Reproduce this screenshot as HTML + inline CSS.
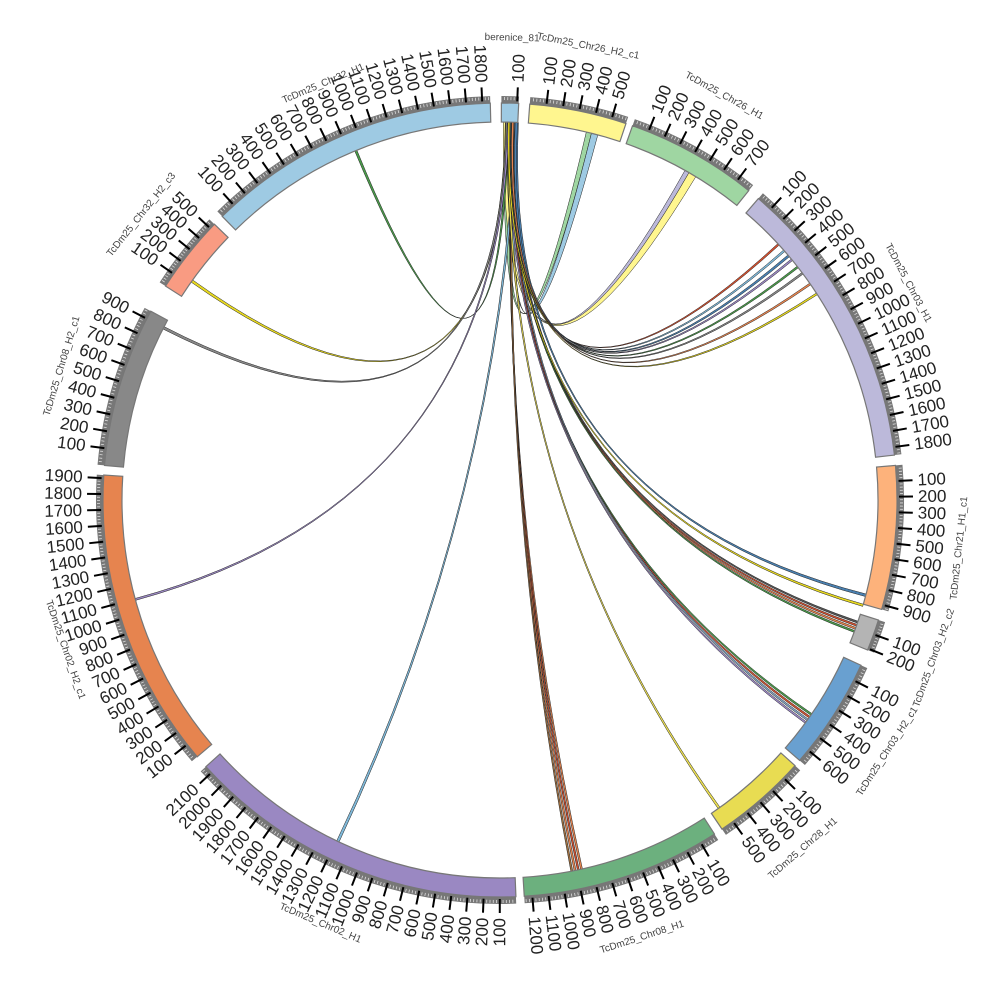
<!DOCTYPE html>
<html><head><meta charset="utf-8">
<style>
html,body{margin:0;padding:0;background:#fff;width:1000px;height:1000px;overflow:hidden}
svg{display:block}
text{font-family:"Liberation Sans","DejaVu Sans",sans-serif}
</style></head>
<body>
<svg id="s" width="1000" height="1000" viewBox="0 0 1000 1000" xmlns="http://www.w3.org/2000/svg">
<g id="links"></g>
<g id="segs"></g>
<g id="names" font-size="10" fill="#444">
<text data-a="1.5" data-r="462">berenice_81</text>
<text data-a="11" data-r="462">TcDm25_Chr26_H2_c1</text>
<text data-a="29" data-r="462">TcDm25_Chr26_H1</text>
<text data-a="62" data-r="462">TcDm25_Chr03_H1</text>
<text data-a="96" data-r="462">TcDm25_Chr21_H1_c1</text>
<text data-a="110" data-r="462">TcDm25_Chr03_H2_c2</text>
<text data-a="123" data-r="462">TcDm25_Chr03_H2_c1</text>
<text data-a="139" data-r="462">TcDm25_Chr28_H1</text>
<text data-a="162" data-r="460">TcDm25_Chr08_H1</text>
<text data-a="203" data-r="460">TcDm25_Chr02_H1</text>
<text data-a="251" data-r="460">TcDm25_Chr02_H2_c1</text>
<text data-a="287" data-r="458">TcDm25_Chr08_H2_c1</text>
<text data-a="308.5" data-r="458">TcDm25_Chr32_H2_c3</text>
<text data-a="337" data-r="452">TcDm25_Chr32_H1</text>
</g>
</svg>
<script>
const C=500,R0=378,R1=397,NS="http://www.w3.org/2000/svg";
function P(r,a){const t=a*Math.PI/180;return [C+r*Math.sin(t),C-r*Math.cos(t)];}
function el(tag,attrs,parent){const e=document.createElementNS(NS,tag);for(const k in attrs)e.setAttribute(k,attrs[k]);parent.appendChild(e);return e;}
function arcPath(r0,r1,s,e){const a=P(r1,s),b=P(r1,e),c=P(r0,e),d=P(r0,s);const l=(e-s)>180?1:0;
return `M${a[0]},${a[1]} A${r1},${r1} 0 ${l} 1 ${b[0]},${b[1]} L${c[0]},${c[1]} A${r0},${r0} 0 ${l} 0 ${d[0]},${d[1]} Z`;}
const segs=[
[0.2,2.7,110,"#9ecae3"],
[4.3,18.5,590,"#fff68f"],
[19.5,38.8,790,"#9fd6a2"],
[40.6,83.5,1850,"#bcb9da"],
[85,106,930,"#fdb27b"],
[107.6,112.2,210,"#b4b4b4"],
[114.6,131,680,"#69a0d0"],
[132,146,580,"#e8dc52"],
[147.3,176.5,1250,"#6cb07e"],
[177.7,227.8,2150,"#9a88c2"],
[229.7,273.6,1920,"#e6844f"],
[275,298.4,950,"#888888"],
[302.6,314,540,"#f99b82"],
[315.6,358.6,1850,"#9ecae3"]];
const sg=document.getElementById("segs");
segs.forEach(([s,e,len,col])=>{
 el("path",{d:arcPath(R0,R1,s,e),fill:col,stroke:"#777","stroke-width":1.2},sg);
 el("path",{d:arcPath(R1,404,s,e),fill:"#777",stroke:"none"},sg);
 const sc=(e-s)/len;
 for(let u=20;u<len;u+=20){if(u%100==0)continue;const a=s+u*sc;const p=P(400,a),q=P(403,a);
  el("line",{x1:p[0],y1:p[1],x2:q[0],y2:q[1],stroke:"#ddd","stroke-width":0.8},sg);}
 for(let u=100;u<len;u+=100){const a=s+u*sc;const p=P(399,a),q=P(413,a);
  el("line",{x1:p[0],y1:p[1],x2:q[0],y2:q[1],stroke:"#000","stroke-width":2},sg);
  const t=P(418,a);const right=a<180;
  const tx=el("text",{x:t[0],y:t[1],"font-size":17,fill:"#222","text-anchor":right?"start":"end","dominant-baseline":"central",
   transform:`rotate(${right?a-90:a+90} ${t[0]} ${t[1]})`},sg);tx.textContent=u;}
});
document.querySelectorAll("#names text").forEach(t=>{
 const a=+t.dataset.a,r=+t.dataset.r;const p=P(r,a);const rot=(a>90&&a<270)?a-180:a;
 t.setAttribute("x",p[0]);t.setAttribute("y",p[1]);t.setAttribute("text-anchor","middle");
 t.setAttribute("dominant-baseline","central");t.setAttribute("transform",`rotate(${rot} ${p[0]} ${p[1]})`);
});
const lg=document.getElementById("links");
function ribbon(a1,a2,b1,b2,col){
 const p1=P(R0,a1),p2=P(R0,a2),q1=P(R0,b1),q2=P(R0,b2);
 const d=`M${p1[0]},${p1[1]} Q500,500 ${q2[0]},${q2[1]} A${R0},${R0} 0 0 0 ${q1[0]},${q1[1]} Q500,500 ${p2[0]},${p2[1]} A${R0},${R0} 0 0 0 ${p1[0]},${p1[1]}Z`;
 el("path",{d:d,fill:col,stroke:"#222","stroke-width":0.5},lg);}
const L=[
[1.0,337.4,"#4a9a4a",0.35],
[0.8,305.2,"#e6d820",0.4],
[0.9,296.9,"#888",0.4],
[1.1,254.6,"#9a88c2",0.3],
[2.3,205.2,"#7fb8d8",0.4],
[1.6,167.4,"#e6844f",0.3],[1.7,167.9,"#d05030",0.3],[1.8,168.4,"#e6844f",0.3],[1.9,168.9,"#a07040",0.3],
[1.2,144.4,"#e8dc52",0.35],
[1.4,124.4,"#4a9a4a",0.3],[1.5,124.9,"#d05030",0.3],[2.0,125.4,"#7fa0c0",0.3],[1.3,125.9,"#9a88c2",0.3],
[1.5,109.2,"#d05030",0.3],[1.6,109.7,"#e6844f",0.3],[1.7,110.2,"#4a9a4a",0.3],[1.9,108.7,"#555",0.3],
[2.4,104.4,"#4a80b0",0.4],[1.3,106.0,"#e6d820",0.35],
[1.5,47.3,"#d05030",0.3],[2.2,48.6,"#7fb8d8",0.3],[2.3,49.6,"#4a80b0",0.35],[1.4,50.4,"#9a88c2",0.3],
[1.6,51.8,"#4a9a4a",0.3],[1.7,53.0,"#888",0.3],[1.8,55.0,"#e6844f",0.3],[1.2,56.8,"#e6d820",0.3]
];
ribbon(0.6,1.4,13.2,14.0,"#9fd6a2");
ribbon(2.0,2.6,14.0,15.0,"#9ecae3");
ribbon(1.9,2.3,29.3,30.0,"#bcb9da");
ribbon(0.5,1.1,30.0,31.2,"#fff68f");
L.forEach(([a,b,c,w])=>ribbon(a,a+w,b,b+w,c));
</script>
</body></html>
